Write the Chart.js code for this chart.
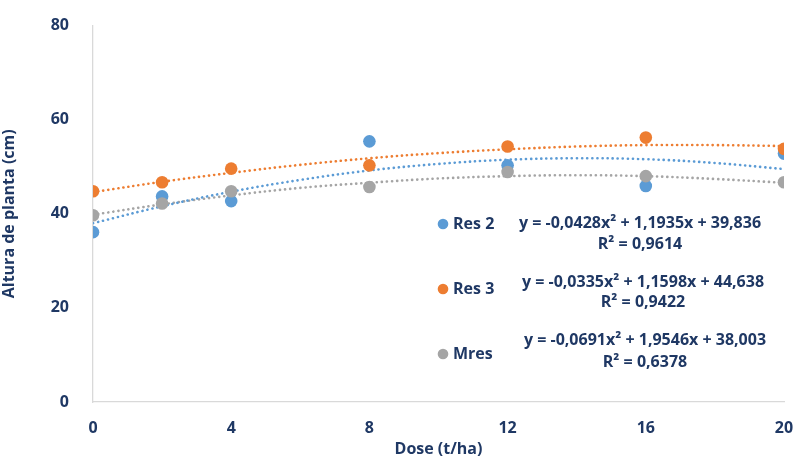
<!DOCTYPE html>
<html>
<head>
<meta charset="utf-8">
<script src="https://cdn.jsdelivr.net/npm/chart.js@4.4.1/dist/chart.umd.min.js"></script>
<style>
  html, body { margin: 0; padding: 0; background: #fff; }
  #wrap { width: 795px; height: 459px; position: relative; }
</style>
</head>
<body>
<div id="wrap"><canvas id="myChart"></canvas></div>
<script>
/* Data */
const doses = [0, 2, 4, 8, 12, 16, 20];
const res2 = [36.1, 43.7, 42.7, 55.4, 50.3, 45.9, 52.8];
const res3 = [44.8, 46.7, 49.6, 50.3, 54.3, 56.2, 53.8];
const mres = [39.7, 42.2, 44.8, 45.7, 48.9, 48.0, 46.7];

// trend lines
const trendDoses = [0, 2, 4, 6, 8, 10, 12, 14, 16, 18, 20];
const trendBlue = [38.0, 41.6, 44.7, 47.2, 49.2, 50.6, 51.5, 51.8, 51.6, 50.8, 49.5];
const trendOrange = [44.6, 46.8, 48.7, 50.4, 51.8, 52.9, 53.7, 54.3, 54.6, 54.6, 54.4];
const trendGray = [39.8, 42.0, 43.9, 45.5, 46.6, 47.5, 48.0, 48.2, 48.0, 47.4, 46.6];

const xTicks = [0, 4, 8, 12, 16, 20];
const yTicks = [0, 20, 40, 60, 80];

const seriesNames = ["Res 2", "Res 3", "Mres"];
const equations = [
  "y = -0,0428x\u00b2 + 1,1935x + 39,836",
  "y = -0,0335x\u00b2 + 1,1598x + 44,638",
  "y = -0,0691x\u00b2 + 1,9546x + 38,003",
];
const rSquared = ["R\u00b2 = 0,9614", "R\u00b2 = 0,9422", "R\u00b2 = 0,6378"];

const BLUE = "#5B9BD5";
const ORANGE = "#ED7D31";
const GRAY = "#A5A5A5";
const NAVY = "#1F3864";
const FONT = "'Open Sans', Lato, sans-serif";

function toPoints(xs, ys) {
  return xs.map((x, i) => ({ x: x, y: ys[i] }));
}

function pointSet(label, values, color, order) {
  return {
    label: label,
    data: toPoints(doses, values),
    backgroundColor: color,
    borderColor: color,
    pointRadius: 6.3,
    pointHoverRadius: 6.3,
    pointBorderWidth: 0,
    showLine: false,
    order: order,
  };
}

function trendSet(values, color, order) {
  return {
    label: "trend",
    data: toPoints(trendDoses, values),
    borderColor: color,
    backgroundColor: color,
    borderWidth: 2.6,
    borderDash: [0.1, 5],
    borderCapStyle: "round",
    pointRadius: 0,
    showLine: true,
    tension: 0.4,
    order: order,
  };
}

/* Legend with equations */
const legendPlugin = {
  id: "eqLegend",
  afterDraw(chart) {
    const ctx = chart.ctx;
    const colors = [BLUE, ORANGE, GRAY];
    const nameY = [224, 289, 354];
    const eqY = [223, 282, 340];
    const rY = [244, 302, 362];
    const eqX = [640, 643, 645];
    ctx.save();
    ctx.textBaseline = "middle";
    for (let i = 0; i < 3; i++) {
      ctx.beginPath();
      ctx.fillStyle = colors[i];
      ctx.arc(443, nameY[i], 5.3, 0, Math.PI * 2);
      ctx.fill();
      ctx.fillStyle = NAVY;
      ctx.font = "bold 16px " + FONT;
      ctx.textAlign = "left";
      ctx.fillText(seriesNames[i], 453, nameY[i]);
      ctx.textAlign = "center";
      ctx.fillText(equations[i], eqX[i], eqY[i]);
      ctx.fillText(rSquared[i], eqX[i], rY[i]);
    }
    ctx.restore();
  },
};

const ctx = document.getElementById("myChart").getContext("2d");

const config = {
  type: "scatter",
  data: {
    datasets: [
      pointSet("Res 2", res2, BLUE, 2),
      pointSet("Res 3", res3, ORANGE, 1),
      pointSet("Mres", mres, GRAY, 0),
      trendSet(trendBlue, BLUE, 3),
      trendSet(trendOrange, ORANGE, 4),
      trendSet(trendGray, GRAY, 5),
    ],
  },
  options: {
    responsive: true,
    maintainAspectRatio: false,
    animation: false,
    layout: {
      padding: { top: 25, right: 11, left: 0, bottom: 0 },
    },
    plugins: {
      legend: { display: false },
      tooltip: { enabled: false },
    },
    scales: {
      x: {
        type: "linear",
        min: 0,
        max: 20,
        afterFit: function (scale) {
          scale.height = 57;
          scale.paddingLeft = 0;
          scale.paddingRight = 0;
        },
        afterBuildTicks: function (scale) {
          scale.ticks = xTicks.map((v) => ({ value: v }));
        },
        grid: { display: false },
        border: { display: true, color: "#D9D9D9", width: 1.3 },
        ticks: {
          color: NAVY,
          padding: 9,
          font: { family: FONT, size: 16, weight: "bold" },
        },
        title: {
          display: true,
          text: "Dose (t/ha)",
          color: NAVY,
          padding: { top: 5, bottom: 0 },
          font: { family: FONT, size: 16, weight: "bold" },
        },
      },
      y: {
        min: 0,
        max: 80,
        afterFit: function (scale) {
          scale.width = 93;
        },
        afterBuildTicks: function (scale) {
          scale.ticks = yTicks.map((v) => ({ value: v }));
        },
        grid: { display: false },
        border: { display: true, color: "#D9D9D9", width: 1.3 },
        ticks: {
          color: NAVY,
          padding: 16,
          font: { family: FONT, size: 16, weight: "bold" },
        },
        title: {
          display: true,
          text: "Altura de planta (cm)",
          color: NAVY,
          padding: { top: 0, bottom: 0 },
          font: { family: FONT, size: 16, weight: "bold" },
        },
      },
    },
  },
  plugins: [legendPlugin],
};

const myChart = new Chart(ctx, config);
</script>
</body>
</html>
